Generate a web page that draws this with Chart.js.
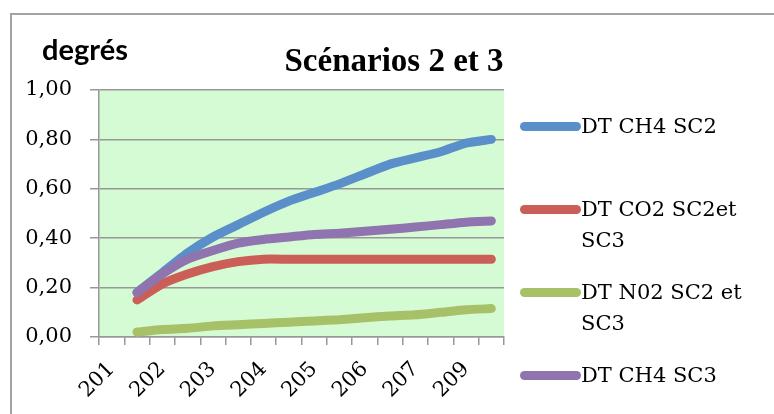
<!DOCTYPE html>
<html>
<head>
<meta charset="utf-8">
<script src="https://cdn.jsdelivr.net/npm/chart.js@4.4.1/dist/chart.umd.min.js"></script>
<style>
html, body { margin: 0; padding: 0; background: #fff; }
#wrap { position: relative; width: 774px; height: 414px; overflow: hidden; }
#frame { position: absolute; left: 10px; top: 13px; width: 900px; height: 600px;
  border-top: 2px solid #a3a3a3; border-left: 2px solid #a3a3a3; }
#chart { position: absolute; left: 0; top: 0; }
.item { position: absolute; left: 520px; display: flex; align-items: flex-start;
  font-family: "DejaVu Serif", serif; font-size: 21px; line-height: 31px; color: #000; }
.item .swatch { width: 61px; height: 9px; border-radius: 5px; margin-top: 11px; flex: none; }
.item .txt { width: 172px; }
</style>
</head>
<body>
<div id="wrap">
  <div id="frame"></div>
  <canvas id="chart" width="774" height="414"></canvas>
  <div id="legend"></div>
</div>
<script>
// tick labels under every second category
const tickLabels = ['201', '202', '203', '204', '205', '206', '207', '209'];
const categories = tickLabels.flatMap(t => [t, '']);

const seriesNames = ['DT CH4 SC2', 'DT CO2 SC2et SC3', 'DT N02 SC2 et SC3', 'DT CH4 SC3'];
const seriesColors = ['#5a8fc9', '#cb5f57', '#a6c167', '#8f74af'];

const ch4Sc2 = [null, 0.18, 0.26, 0.34, 0.405, 0.455, 0.505, 0.55, 0.585, 0.62, 0.66, 0.70, 0.725, 0.75, 0.785, 0.80];
const co2 = [null, 0.15, 0.215, 0.255, 0.285, 0.305, 0.315, 0.315, 0.315, 0.315, 0.315, 0.315, 0.315, 0.315, 0.315, 0.315];
const n02 = [null, 0.02, 0.03, 0.035, 0.045, 0.05, 0.055, 0.06, 0.065, 0.07, 0.078, 0.085, 0.09, 0.10, 0.11, 0.115];
const ch4Sc3 = [null, 0.18, 0.255, 0.315, 0.35, 0.38, 0.395, 0.405, 0.415, 0.42, 0.428, 0.436, 0.445, 0.455, 0.465, 0.47];

const seriesData = [ch4Sc2, co2, n02, ch4Sc3];
const gridGray = '#989898';

const plotBg = {
  id: 'plotBg',
  beforeDraw(chart) {
    const { ctx, chartArea: a } = chart;
    ctx.save();
    ctx.fillStyle = '#d5fbd5';
    ctx.fillRect(a.left, a.top, a.right - a.left, a.bottom - a.top);
    ctx.restore();
  }
};

const titles = {
  id: 'titles',
  afterDraw(chart) {
    const ctx = chart.ctx;
    ctx.save();
    ctx.fillStyle = '#000';
    ctx.textBaseline = 'alphabetic';
    ctx.textAlign = 'left';
    ctx.font = 'bold 29px Lato';
    ctx.fillText('degrés', 42, 60);
    ctx.textAlign = 'center';
    ctx.font = 'bold 33px "Liberation Serif"';
    ctx.fillText('Scénarios 2 et 3', 394, 71);
    ctx.restore();
  }
};

const chart = new Chart(document.getElementById('chart'), {
  type: 'line',
  data: {
    labels: categories,
    datasets: seriesData.map((d, i) => ({
      label: seriesNames[i],
      data: d,
      borderColor: seriesColors[i],
      backgroundColor: seriesColors[i],
      borderWidth: 9,
      borderCapStyle: 'round',
      borderJoinStyle: 'round',
      pointRadius: 0,
      tension: 0.2,
      fill: false,
      order: 4 - i
    }))
  },
  options: {
    responsive: false,
    animation: false,
    devicePixelRatio: 1,
    layout: { padding: { left: 0, top: 90, right: 270, bottom: 0 } },
    plugins: { legend: { display: false }, tooltip: { enabled: false }, title: { display: false } },
    scales: {
      x: {
        offset: true,
        grid: { offset: true, drawOnChartArea: false, drawTicks: true, tickLength: 8, color: gridGray, lineWidth: 1.5 },
        border: { color: gridGray, width: 1.5 },
        ticks: {
          autoSkip: false, maxRotation: 45, minRotation: 45, padding: 12,
          color: '#000', font: { family: 'DejaVu Serif', size: 21 },
          callback: (v, i) => categories[i]
        },
        afterFit: s => { s.height = 77; }
      },
      y: {
        min: 0, max: 1,
        grid: { color: gridGray, lineWidth: 1.5, tickLength: 9 },
        border: { color: gridGray, width: 1.5 },
        ticks: {
          stepSize: 0.2, padding: 18, color: '#000',
          font: { family: 'DejaVu Serif', size: 21 },
          callback: v => v.toFixed(2).replace('.', ',')
        },
        afterFit: s => { s.width = 99; }
      }
    }
  },
  plugins: [plotBg, titles]
});

// legend built from the datasets
const legend = document.getElementById('legend');
chart.data.datasets.forEach((ds, i) => {
  const item = document.createElement('div');
  item.className = 'item';
  item.style.top = (126 + 83 * i - 15.5) + 'px';
  item.innerHTML = '<span class="swatch" style="background:' + ds.borderColor + '"></span><span class="txt">' + ds.label + '</span>';
  legend.appendChild(item);
});
</script>
</body>
</html>
